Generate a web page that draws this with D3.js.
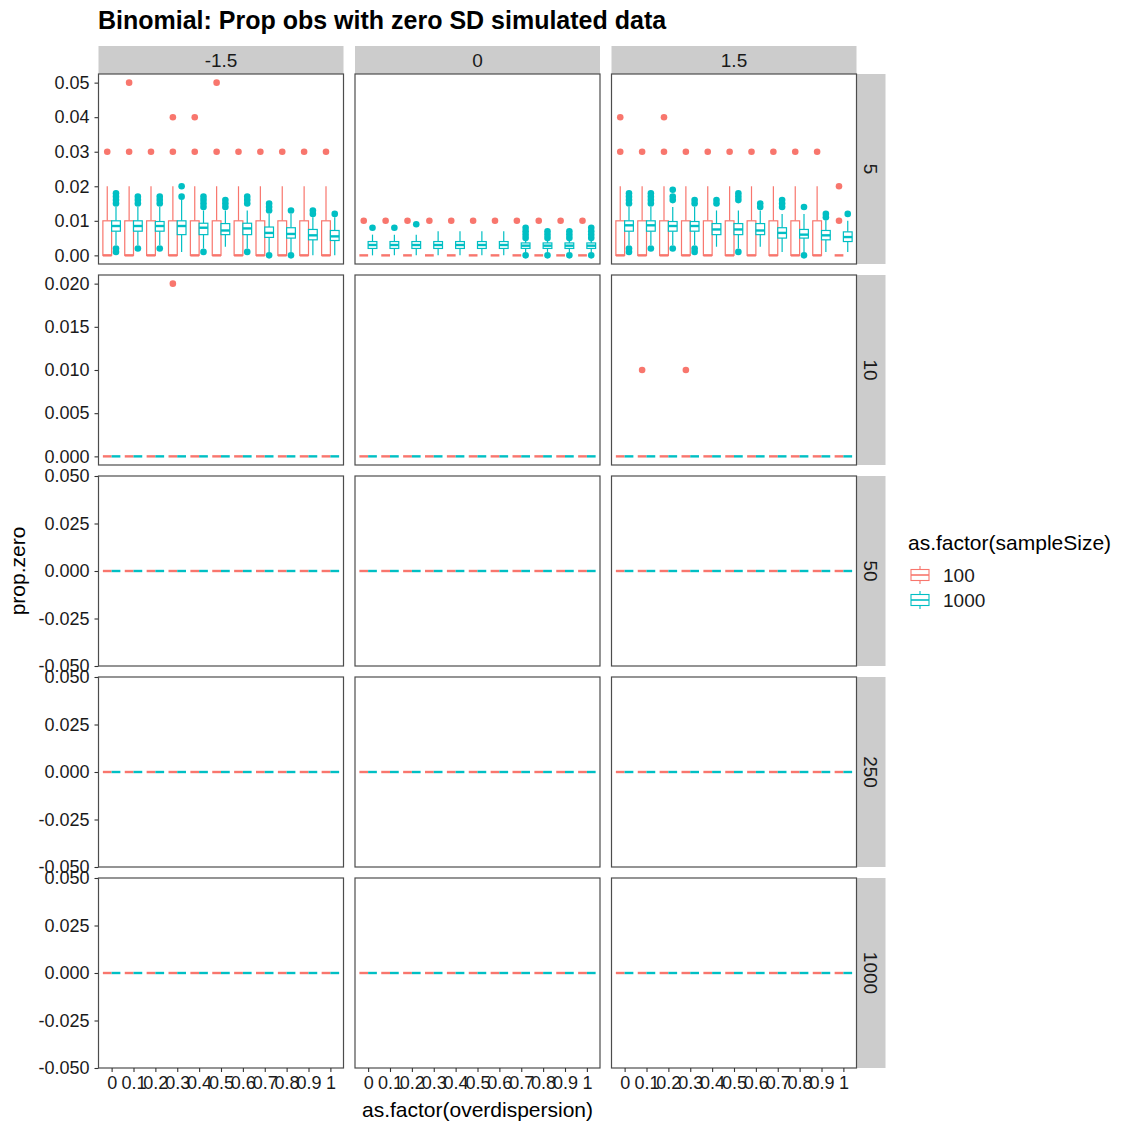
<!DOCTYPE html>
<html><head><meta charset="utf-8">
<script src="https://cdn.jsdelivr.net/npm/d3@7"></script>
<style>body{margin:0;background:#fff}</style>
</head><body><svg id="chart" width="1125" height="1121"></svg>
<script>
// Facets, categories and series
const overdispersion = ["0","0.1","0.2","0.3","0.4","0.5","0.6","0.7","0.8","0.9","1"];
const sampleSizes = ["100","1000"];
const effectFacets = ["-1.5","0","1.5"];
const nObsFacets = ["5","10","50","250","1000"];
const sizeColors = ["#F8766D","#00BFC4"];

// y tick labels per facet row
const yTicksN5 = [0,0.01,0.02,0.03,0.04,0.05];
const yTicksN10 = [0,0.005,0.01,0.015,0.02];
const yTicksWide = [-0.05,-0.025,0,0.025,0.05];

// Box statistics: [lower whisker, q1, median, q3, upper whisker]
const flatBox = [0,0,0,0,0];
const redBox5 = [0,0,0,0.01,0.02];

// nObs = 5, effect -1.5
const n5_neg_100_stats = [redBox5,redBox5,redBox5,redBox5,redBox5,redBox5,redBox5,redBox5,redBox5,redBox5,redBox5];
const n5_neg_100_out = [[0.03],[0.03,0.05],[0.03],[0.03,0.04],[0.03,0.04],[0.03,0.05],[0.03],[0.03],[0.03],[0.03],[0.03]];
const n5_neg_1000_stats = [
  [0.003,0.007,0.0085,0.010,0.014],
  [0.003,0.007,0.0085,0.010,0.014],
  [0.003,0.007,0.0085,0.0098,0.014],
  [0.001,0.006,0.0085,0.010,0.016],
  [0.002,0.006,0.008,0.0093,0.013],
  [0.0025,0.006,0.0072,0.0092,0.013],
  [0.002,0.006,0.0078,0.0093,0.013],
  [0.001,0.0052,0.0065,0.0082,0.012],
  [0.001,0.005,0.0062,0.008,0.012],
  [0,0.0045,0.0058,0.0075,0.011],
  [0,0.0043,0.0055,0.0072,0.011]
];
const n5_neg_1000_out = [
  [0.015,0.016,0.017,0.018,0.001,0.002],
  [0.015,0.016,0.017,0.002],
  [0.015,0.016,0.017,0.002],
  [0.017,0.020],
  [0.014,0.015,0.016,0.017,0.001],
  [0.014,0.015,0.016],
  [0.015,0.016,0.017,0.001],
  [0.013,0.014,0.015,0],
  [0.013,0],
  [0.012,0.013],
  [0.012]
];

// nObs = 5, effect 0
const n5_zero_100_stats = [flatBox,flatBox,flatBox,flatBox,flatBox,flatBox,flatBox,flatBox,flatBox,flatBox,flatBox];
const n5_zero_100_out = [[0.01],[0.01],[0.01],[0.01],[0.01],[0.01],[0.01],[0.01],[0.01],[0.01],[0.01]];
const n5_zero_1000_stats = [
  [0,0.002,0.003,0.004,0.006],
  [0,0.002,0.003,0.004,0.006],
  [0,0.002,0.003,0.004,0.006],
  [0,0.002,0.003,0.004,0.007],
  [0,0.002,0.003,0.004,0.007],
  [0,0.002,0.003,0.004,0.007],
  [0,0.002,0.003,0.004,0.007],
  [0.001,0.002,0.0028,0.0036,0.0045],
  [0.001,0.002,0.0028,0.0036,0.0045],
  [0.001,0.002,0.0028,0.0036,0.0045],
  [0.001,0.002,0.0028,0.0036,0.0045]
];
const n5_zero_1000_out = [[0.008],[0.008],[0.009],[],[],[],[],
  [0,0.005,0.006,0.007,0.008],[0,0.005,0.006,0.007],[0,0.005,0.006,0.007],[0,0.005,0.006,0.007,0.008]];

// nObs = 5, effect 1.5
const n5_pos_100_stats = [redBox5,redBox5,redBox5,redBox5,redBox5,redBox5,redBox5,redBox5,redBox5,redBox5,flatBox];
const n5_pos_100_out = [[0.03,0.04],[0.03],[0.03,0.04],[0.03],[0.03],[0.03],[0.03],[0.03],[0.03],[0.03],[0.01,0.02]];
const n5_pos_1000_stats = [
  [0.003,0.007,0.0087,0.010,0.014],
  [0.003,0.007,0.0087,0.010,0.014],
  [0.003,0.007,0.0085,0.0098,0.014],
  [0.003,0.007,0.0085,0.0098,0.014],
  [0.0025,0.006,0.0075,0.0092,0.013],
  [0.002,0.006,0.0075,0.0092,0.013],
  [0.0025,0.006,0.0072,0.0092,0.013],
  [0.001,0.005,0.0065,0.008,0.012],
  [0.001,0.005,0.006,0.0075,0.012],
  [0.001,0.0045,0.0058,0.0072,0.010],
  [0.001,0.004,0.0053,0.0068,0.010]
];
const n5_pos_1000_out = [
  [0.015,0.016,0.017,0.018,0.001,0.002],
  [0.015,0.016,0.017,0.018,0.002],
  [0.016,0.017,0.019,0.002],
  [0.015,0.016,0.001,0.002],
  [0.015,0.016],
  [0.016,0.017,0.018,0.001],
  [0.014,0.015],
  [0.014,0.015,0.016],
  [0.014,0],
  [0.011,0.012],
  [0.012]
];

// nObs = 10 outliers (all boxes collapse to zero)
const n10_neg_100_out = [[],[],[],[0.02],[],[],[],[],[],[],[]];
const n10_pos_100_out = [[],[0.01],[],[0.01],[],[],[],[],[],[],[]];

const flatStats = [flatBox,flatBox,flatBox,flatBox,flatBox,flatBox,flatBox,flatBox,flatBox,flatBox,flatBox];
const noOutliers = [[],[],[],[],[],[],[],[],[],[],[]];

function cell(row, col, s) {
  const key = nObsFacets[row] + "|" + effectFacets[col] + "|" + sampleSizes[s];
  const table = {
    "5|-1.5|100": [n5_neg_100_stats, n5_neg_100_out],
    "5|-1.5|1000": [n5_neg_1000_stats, n5_neg_1000_out],
    "5|0|100": [n5_zero_100_stats, n5_zero_100_out],
    "5|0|1000": [n5_zero_1000_stats, n5_zero_1000_out],
    "5|1.5|100": [n5_pos_100_stats, n5_pos_100_out],
    "5|1.5|1000": [n5_pos_1000_stats, n5_pos_1000_out],
    "10|-1.5|100": [flatStats, n10_neg_100_out],
    "10|1.5|100": [flatStats, n10_pos_100_out]
  };
  return table[key] || [flatStats, noOutliers];
}

// Layout
const FONT = "'Liberation Sans', Arial, Helvetica, sans-serif";
const panelW = 245, panelH = 190;
const colStep = 256.5, rowStep = 201;
const left0 = 98.5, top0 = 74;
const stripH = 28, stripW = 29;

// plain hyphen for negative tick labels
const locale = d3.formatLocale({decimal: ".", thousands: ",", grouping: [3], currency: ["", ""], minus: "-"});

const svg = d3.select("#chart").style("font-family", FONT);

svg.append("text").attr("x", 98).attr("y", 29)
  .attr("font-size", 25).attr("font-weight", "bold").attr("fill", "#000")
  .text("Binomial: Prop obs with zero SD simulated data");

const x = d3.scaleLinear().domain([-0.6, overdispersion.length - 0.4]).range([0, panelW]);
const boxHalf = 0.2;
const dodge = [-0.2, 0.2];

const yDomains = [
  [0 - 0.0025, 0.05 + 0.0025],
  [0 - 0.001, 0.02 + 0.001],
  [-0.05, 0.05], [-0.05, 0.05], [-0.05, 0.05]
];
const yTickSets = [yTicksN5, yTicksN10, yTicksWide, yTicksWide, yTicksWide];
const yFormats = [locale.format(".2f"), locale.format(".3f"), locale.format(".3f"), locale.format(".3f"), locale.format(".3f")];

// column strips
effectFacets.forEach((lab, c) => {
  const g = svg.append("g").attr("transform", `translate(${left0 + c * colStep},${top0 - stripH})`);
  g.append("rect").attr("width", panelW).attr("height", stripH).attr("fill", "#cccccc");
  g.append("text").attr("x", panelW / 2).attr("y", stripH / 2 + 7)
    .attr("text-anchor", "middle").attr("font-size", 19).attr("fill", "#1a1a1a").text(lab);
});

nObsFacets.forEach((rowLab, r) => {
  const top = top0 + r * rowStep;
  const y = d3.scaleLinear().domain(yDomains[r]).range([panelH, 0]);

  // row strip
  const sg = svg.append("g").attr("transform", `translate(${left0 + 2 * colStep + panelW},${top})`);
  sg.append("rect").attr("width", stripW).attr("height", panelH).attr("fill", "#cccccc");
  sg.append("text").attr("transform", `translate(${stripW / 2 - 7},${panelH / 2}) rotate(90)`)
    .attr("text-anchor", "middle").attr("font-size", 19).attr("fill", "#1a1a1a").text(rowLab);

  // y axis on first column
  const ya = svg.append("g").attr("transform", `translate(${left0},${top})`)
    .call(d3.axisLeft(y).tickValues(yTickSets[r]).tickFormat(yFormats[r]).tickSize(4).tickPadding(5));
  ya.select(".domain").remove();
  ya.selectAll("line").attr("stroke", "#333").attr("stroke-width", 1.1);
  ya.selectAll("text").attr("font-size", 18).attr("fill", "#1a1a1a").style("font-family", FONT);

  effectFacets.forEach((_, c) => {
    const g = svg.append("g").attr("transform", `translate(${left0 + c * colStep},${top})`);
    g.append("rect").attr("width", panelW).attr("height", panelH).attr("fill", "#fff");

    sampleSizes.forEach((_, s) => {
      const [stats, outs] = cell(r, c, s);
      const col = sizeColors[s];
      const gs = g.append("g");
      stats.forEach((st, i) => {
        const cx = x(i + dodge[s]);
        const x0 = x(i + dodge[s] - boxHalf), x1 = x(i + dodge[s] + boxHalf);
        const [lo, q1, med, q3, hi] = st;
        gs.append("line").attr("x1", cx).attr("x2", cx).attr("y1", y(hi)).attr("y2", y(q3))
          .attr("stroke", col).attr("stroke-width", 1.2);
        gs.append("line").attr("x1", cx).attr("x2", cx).attr("y1", y(q1)).attr("y2", y(lo))
          .attr("stroke", col).attr("stroke-width", 1.2);
        gs.append("rect").attr("x", x0).attr("width", x1 - x0)
          .attr("y", y(q3)).attr("height", Math.max(0, y(q1) - y(q3)))
          .attr("fill", "#fff").attr("stroke", col).attr("stroke-width", 1.2);
        gs.append("line").attr("x1", x0).attr("x2", x1).attr("y1", y(med)).attr("y2", y(med))
          .attr("stroke", col).attr("stroke-width", 2.4);
        outs[i].forEach(v => {
          gs.append("circle").attr("cx", cx).attr("cy", y(v)).attr("r", 3.3).attr("fill", col);
        });
      });
    });

    g.append("rect").attr("width", panelW).attr("height", panelH)
      .attr("fill", "none").attr("stroke", "#4d4d4d").attr("stroke-width", 1.2);

    // x axis on bottom row
    if (r === nObsFacets.length - 1) {
      const xa = g.append("g").attr("transform", `translate(0,${panelH})`)
        .call(d3.axisBottom(x).tickValues(d3.range(overdispersion.length))
          .tickFormat(i => overdispersion[i]).tickSize(4).tickPadding(4));
      xa.select(".domain").remove();
      xa.selectAll("line").attr("stroke", "#333").attr("stroke-width", 1.1);
      xa.selectAll("text").attr("font-size", 18).attr("fill", "#1a1a1a").style("font-family", FONT);
    }
  });
});

// axis titles
const plotMidX = left0 + (2 * colStep + panelW) / 2;
const plotMidY = top0 + (4 * rowStep + panelH) / 2;
svg.append("text").attr("x", plotMidX).attr("y", 1117).attr("text-anchor", "middle")
  .attr("font-size", 21).attr("fill", "#000").text("as.factor(overdispersion)");
svg.append("text").attr("transform", `translate(25,${plotMidY}) rotate(-90)`)
  .attr("text-anchor", "middle").attr("font-size", 21).attr("fill", "#000").text("prop.zero");

// legend
const lg = svg.append("g").attr("transform", "translate(908,0)");
lg.append("text").attr("x", 0).attr("y", 550).attr("font-size", 21).attr("fill", "#000")
  .text("as.factor(sampleSize)");
sampleSizes.forEach((lab, s) => {
  const cy = 575 + s * 25;
  const col = sizeColors[s];
  const k = lg.append("g").attr("transform", `translate(2,${cy})`);
  k.append("line").attr("x1", 10).attr("x2", 10).attr("y1", -9).attr("y2", 9).attr("stroke", col).attr("stroke-width", 1.1);
  k.append("rect").attr("x", 1).attr("y", -5.5).attr("width", 18).attr("height", 11)
    .attr("fill", "#fff").attr("stroke", col).attr("stroke-width", 1.1);
  k.append("line").attr("x1", 1).attr("x2", 19).attr("y1", 0).attr("y2", 0).attr("stroke", col).attr("stroke-width", 1.6);
  lg.append("text").attr("x", 35).attr("y", cy + 7).attr("font-size", 19).attr("fill", "#1a1a1a").text(lab);
});
</script>
</body></html>
